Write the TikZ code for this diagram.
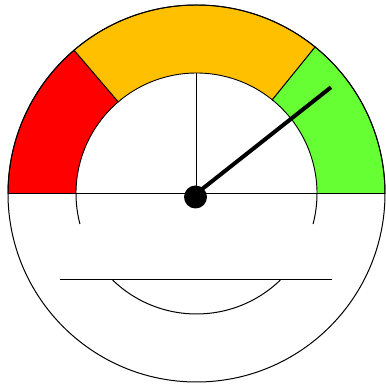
\documentclass[tikz,border=0pt]{standalone}
\usetikzlibrary{calc}
\definecolor{gaugered}{RGB}{255,0,0}
\definecolor{gaugeorange}{RGB}{255,192,0}
\definecolor{gaugegreen}{RGB}{102,255,51}
\tikzset{
	sector/.style={draw=black,line width=0.9pt},
	thin line/.style={line width=1pt},
	needle/.style={line width=4pt}
}
\begin{document}
\begin{tikzpicture}[x=1pt,y=1pt]
	\useasboundingbox (0,0) rectangle (386,385);
	\coordinate (O) at (196.5,191.5);
	\begin{scope}[shift={(O)}]
		% coloured bands
		\draw[sector,fill=gaugered] (180:188.5) arc (180:130.5:188.5)
			-- (130.5:120.5) arc (130.5:180:120.5) -- cycle;
		\draw[sector,fill=gaugeorange] (130.5:188.5) arc (130.5:51:188.5)
			-- (51:120.5) arc (51:130.5:120.5) -- cycle;
		\draw[sector,fill=gaugegreen] (51:188.5) arc (51:0:188.5)
			-- (0:120.5) arc (0:51:120.5) -- cycle;
		% dial
		\draw[thin line] (0,0) circle (188.5);
		\draw[thin line] (-188.5,0) -- (188.5,0);
		\draw[thin line] (0,0) -- (0,120.5);
		\draw[thin line] (180:120.5) arc (180:194.7:120.5);
		\draw[thin line] (0:120.5) arc (0:-14.7:120.5);
		\draw[thin line] (225.9:120.5) arc (225.9:314.1:120.5);
		\draw[thin line] (-136.5,-85.8) -- (135.5,-85.8);
		% needle
		\coordinate (tip) at (38.3:171.4);
		\draw[needle] (0,0) -- (tip);
		\fill (-1,-3.5) circle (11.5);
	\end{scope}
\end{tikzpicture}
\end{document}
